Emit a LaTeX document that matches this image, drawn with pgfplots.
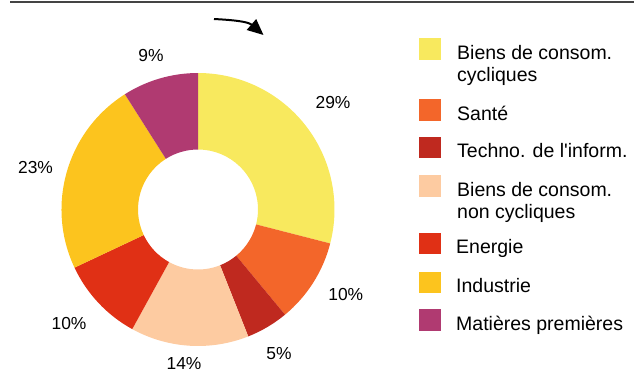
\documentclass[border=0pt]{standalone}
\usepackage{pgfplots}
\pgfplotsset{compat=1.18}
\usepackage{pgfplotstable}
\usepackage{fontspec}
\setmainfont{Liberation Sans}
\usetikzlibrary{arrows.meta}
\definecolor{c0}{HTML}{F8E95E}
\definecolor{c1}{HTML}{F3662A}
\definecolor{c2}{HTML}{BF291F}
\definecolor{c3}{HTML}{FDCBA1}
\definecolor{c4}{HTML}{E03015}
\definecolor{c5}{HTML}{FCC41E}
\definecolor{c6}{HTML}{B03A71}
\definecolor{topline}{HTML}{444444}

\pgfplotstableread{
idx value
0 29
1 10
2 5
3 14
4 10
5 23
6 9
}\sectors

\newcommand{\labfont}{\fontsize{17.4bp}{20bp}\selectfont}
\newcommand{\legfont}{\fontsize{19.5bp}{22bp}\selectfont}

\begin{document}
\begin{tikzpicture}
\path[use as bounding box] (0,0) rectangle (634bp,374bp);
\begin{axis}[x=1bp,y=1bp,xmin=0,xmax=634,ymin=0,ymax=374,hide axis,scale only axis,
  anchor=south west,at={(0,0)},clip=false]
\gdef\cum{0}
\pgfplotsforeachungrouped \i in {0,...,6}{%
  \pgfplotstablegetelem{\i}{value}\of\sectors
  \let\v\pgfplotsretval
  \pgfmathsetmacro\a{90-3.6*\cum}%
  \pgfmathsetmacro\b{90-3.6*(\cum+\v)}%
  \pgfmathsetmacro\xa{198+136.5*cos(\a)}%
  \pgfmathsetmacro\ya{164.5+136.5*sin(\a)}%
  \pgfmathsetmacro\xb{198+60*cos(\b)}%
  \pgfmathsetmacro\yb{164.5+60*sin(\b)}%
  \edef\temp{\noexpand\fill[c\i] (axis cs:\xa,\ya) arc[start angle=\a,end angle=\b,radius=136.5bp] -- (axis cs:\xb,\yb) arc[start angle=\b,end angle=\a,radius=60bp] -- cycle;}%
  \temp
  \pgfmathsetmacro\newcum{\cum+\v}%
  \xdef\cum{\newcum}%
}
% percentage labels
\node[font=\labfont,inner sep=0pt] at (axis cs:333,271.5) {29\%};
\node[font=\labfont,inner sep=0pt] at (axis cs:345.8,79) {10\%};
\node[font=\labfont,inner sep=0pt] at (axis cs:279,20) {5\%};
\node[font=\labfont,inner sep=0pt] at (axis cs:184,10) {14\%};
\node[font=\labfont,inner sep=0pt] at (axis cs:69,50) {10\%};
\node[font=\labfont,inner sep=0pt] at (axis cs:35.5,206) {23\%};
\node[font=\labfont,inner sep=0pt] at (axis cs:151,318) {9\%};
% top rule and arrow
\draw[topline,line width=2bp] (axis cs:10,371.8) -- (axis cs:634,371.8);
\draw[black,line width=2bp,-{Triangle[length=16bp,width=14bp]}] (axis cs:214,355) to[out=-3,in=139] (axis cs:263.5,339);
% legend
\fill[c0] (axis cs:419,314) rectangle (axis cs:441,335.7);
\node[font=\legfont,inner sep=0pt,anchor=base west] at (axis cs:457,314.7) {Biens de consom.};
\node[font=\legfont,inner sep=0pt,anchor=base west] at (axis cs:457,292.3) {cycliques};
\fill[c1] (axis cs:419,253.3) rectangle (axis cs:441,275);
\node[font=\legfont,inner sep=0pt,anchor=base west] at (axis cs:457,254) {Santé};
\fill[c2] (axis cs:419,215.7) rectangle (axis cs:441,237.3);
\node[font=\legfont,inner sep=0pt,anchor=base west] at (axis cs:457,216.4) {Techno. de l\textquotesingle inform.};
\fill[c3] (axis cs:419,177.3) rectangle (axis cs:441,199);
\node[font=\legfont,inner sep=0pt,anchor=base west] at (axis cs:457,178) {Biens de consom.};
\node[font=\legfont,inner sep=0pt,anchor=base west] at (axis cs:457,155.6) {non cycliques};
\fill[c4] (axis cs:419,119.7) rectangle (axis cs:441,141.3);
\node[font=\legfont,inner sep=0pt,anchor=base west] at (axis cs:456,120.4) {Energie};
\fill[c5] (axis cs:419,80.7) rectangle (axis cs:441,102.3);
\node[font=\legfont,inner sep=0pt,anchor=base west] at (axis cs:456,81.4) {Industrie};
\fill[c6] (axis cs:419,43.3) rectangle (axis cs:441,65.3);
\node[font=\legfont,inner sep=0pt,anchor=base west] at (axis cs:456,44) {Matières premières};
\end{axis}
\end{tikzpicture}
\end{document}
